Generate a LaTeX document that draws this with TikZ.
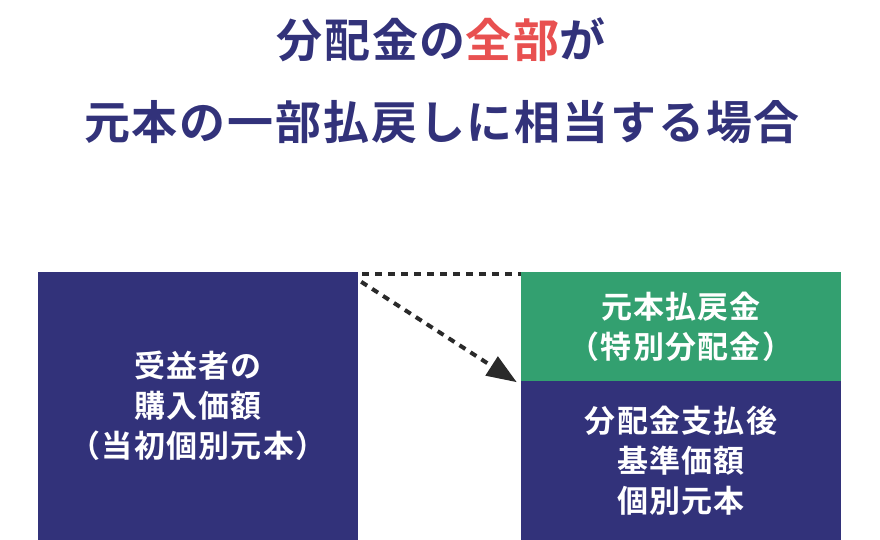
\documentclass[tikz,border=0pt]{standalone}
\usepackage{fontspec}
\setmainfont{Noto Sans CJK JP}[BoldFont={Noto Sans CJK JP Bold}]
\newfontfamily\titlefont{Noto Sans CJK JP Bold}[LetterSpace=4]
\newfontfamily\boxfont{Noto Sans CJK JP Bold}[LetterSpace=4]
\usetikzlibrary{arrows.meta, positioning, calc}
\definecolor{notenavy}{RGB}{50, 50, 122}
\definecolor{notered}{RGB}{232, 80, 80}
\definecolor{notegreen}{RGB}{51, 160, 112}
\definecolor{notedash}{RGB}{42, 42, 42}

\begin{document}
\begin{tikzpicture}[x=1pt, y=1pt,
        box/.style={draw=none, inner sep=0pt, text=white, align=center,
            font=\boxfont\fontsize{31}{40}\selectfont, minimum width=320pt},
        dotline/.style={notedash, line width=4pt, dash pattern=on 7pt off 6pt}]
        \useasboundingbox (0,0) rectangle (880,-540);

        % Titolo
        \node[font=\titlefont\fontsize{46}{48}\selectfont, text=notenavy] (title1) at (441,-40)
            {分配金の\textcolor{notered}{全部}が};
        \node[font=\titlefont\fontsize{46}{48}\selectfont, text=notenavy] (title2) at (442,-122)
            {元本の一部払戻しに相当する場合};

        % Riquadro sinistro
        \node[box, fill=notenavy, minimum height=268pt] (buy) at (198,-406)
            {受益者の\\購入価額\\（当初個別元本）};

        % Riquadri destri
        \node[box, fill=notegreen, minimum height=109pt] (refund) at (681,-326.5)
            {元本払戻金\\（特別分配金）};
        \node[box, fill=notenavy, minimum height=159pt, below=0pt of refund] (after)
            {分配金支払後\\基準価額\\個別元本};

        % Linee tratteggiate
        \draw[dotline] ([xshift=4pt, yshift=-2pt]buy.north east) -- ([yshift=-2pt]refund.north west);
        \draw[dotline, -{Triangle[length=30pt, width=22pt]}]
            ([xshift=3pt, yshift=-10pt]buy.north east) -- ([xshift=-4pt, yshift=-1pt]refund.south west);
\end{tikzpicture}
\end{document}
